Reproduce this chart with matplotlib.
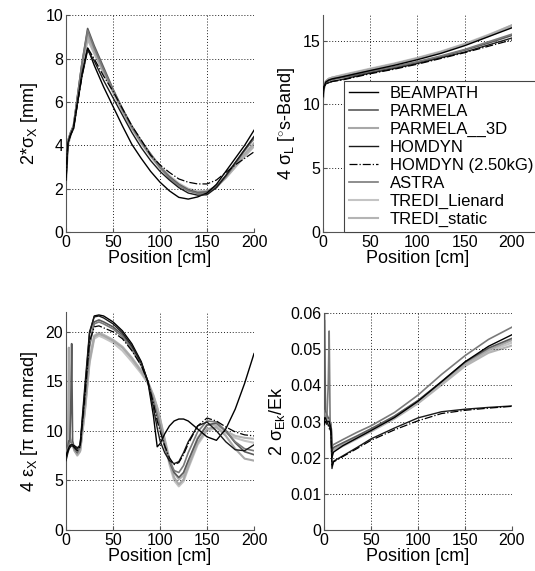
import numpy as np
import matplotlib
matplotlib.use("Agg")
import matplotlib.pyplot as plt
from matplotlib.ticker import FuncFormatter

plt.rcParams['font.family'] = ['Liberation Sans', 'DejaVu Sans']
plt.rcParams['mathtext.fontset'] = 'custom'
plt.rcParams['mathtext.rm'] = 'Liberation Sans'
plt.rcParams['mathtext.it'] = 'Liberation Sans'
plt.rcParams['font.size'] = 11.5

codes = ['BEAMPATH', 'PARMELA', 'PARMELA__3D', 'HOMDYN', 'HOMDYN (2.50kG)',
         'ASTRA', 'TREDI_Lienard', 'TREDI_static']

# --- 2*sigma_x [mm] ---
pos_sx = [0, 2, 5, 8, 12, 17, 23, 30, 40, 50, 60, 70, 80, 90, 100, 110, 120, 130, 140, 150, 160, 170, 180, 190, 200]
sx_beampath = [2.4, 4.1, 4.5, 4.8, 5.9, 7.3, 8.5, 7.7, 6.7, 5.8, 4.9, 4.05, 3.4, 2.8, 2.3, 1.9, 1.6, 1.52, 1.62, 1.8, 2.2, 2.8, 3.4, 4.0, 4.7]
sx_parmela = [2.5, 4.2, 4.6, 4.9, 6.2, 7.8, 9.4, 8.6, 7.6, 6.6, 5.7, 4.9, 4.2, 3.6, 3.0, 2.55, 2.2, 1.95, 1.82, 1.85, 2.1, 2.6, 3.2, 3.8, 4.4]
sx_parmela3d = [2.6, 4.2, 4.6, 4.9, 6.1, 7.7, 9.1, 8.4, 7.4, 6.5, 5.6, 4.8, 4.1, 3.5, 2.95, 2.5, 2.15, 1.92, 1.82, 1.88, 2.1, 2.55, 3.1, 3.6, 4.1]
sx_homdyn = [2.5, 4.1, 4.5, 4.8, 5.9, 7.2, 8.4, 7.9, 7.0, 6.2, 5.4, 4.6, 3.9, 3.3, 2.8, 2.4, 2.05, 1.8, 1.7, 1.72, 2.05, 2.6, 3.2, 3.8, 4.4]
sx_homdyn25 = [2.5, 4.1, 4.5, 4.8, 5.9, 7.2, 8.5, 8.0, 7.2, 6.5, 5.7, 4.9, 4.25, 3.55, 3.1, 2.75, 2.45, 2.3, 2.22, 2.22, 2.4, 2.75, 3.1, 3.4, 3.7]
sx_astra = [2.5, 4.2, 4.6, 4.9, 6.2, 7.8, 9.3, 8.5, 7.5, 6.55, 5.65, 4.85, 4.15, 3.55, 3.0, 2.5, 2.15, 1.9, 1.78, 1.8, 2.05, 2.55, 3.15, 3.75, 4.3]
sx_tredil = [2.3, 4.0, 4.5, 4.8, 6.0, 7.6, 9.0, 8.3, 7.4, 6.5, 5.65, 4.85, 4.2, 3.6, 3.05, 2.6, 2.25, 2.0, 1.88, 1.9, 2.1, 2.5, 3.0, 3.5, 4.0]
sx_tredis = [2.4, 4.0, 4.5, 4.8, 6.0, 7.5, 8.9, 8.25, 7.35, 6.45, 5.6, 4.8, 4.15, 3.55, 3.0, 2.55, 2.2, 1.98, 1.85, 1.88, 2.1, 2.5, 3.0, 3.5, 3.95]

# --- 4*sigma_L [deg S-band] ---
pos_sl = [0, 1, 3, 6, 10, 20, 35, 50, 75, 100, 125, 150, 175, 200]
sl_beampath = [10.6, 11.3, 11.75, 11.9, 12.0, 12.15, 12.4, 12.65, 13.05, 13.5, 14.0, 14.6, 15.3, 16.0]
sl_parmela = [10.9, 11.4, 11.7, 11.85, 11.95, 12.1, 12.3, 12.55, 12.9, 13.3, 13.75, 14.25, 14.8, 15.4]
sl_parmela3d = [10.5, 11.3, 11.8, 12.0, 12.1, 12.25, 12.5, 12.75, 13.15, 13.6, 14.1, 14.7, 15.4, 16.2]
sl_homdyn = [11.0, 11.4, 11.6, 11.7, 11.8, 11.95, 12.2, 12.45, 12.8, 13.2, 13.65, 14.1, 14.65, 15.2]
sl_homdyn25 = [11.0, 11.4, 11.6, 11.7, 11.8, 11.9, 12.15, 12.4, 12.75, 13.15, 13.6, 14.05, 14.55, 15.05]
sl_astra = [10.8, 11.4, 11.75, 11.9, 12.0, 12.15, 12.4, 12.6, 12.95, 13.35, 13.8, 14.3, 14.9, 15.5]
sl_tredil = [10.4, 11.2, 11.8, 12.0, 12.1, 12.3, 12.55, 12.8, 13.2, 13.65, 14.15, 14.75, 15.45, 16.2]
sl_tredis = [10.3, 11.2, 11.8, 12.0, 12.1, 12.25, 12.5, 12.75, 13.15, 13.6, 14.1, 14.7, 15.35, 16.1]

# --- 4*eps_x [pi mm mrad] ---
pos_ex = [0, 2, 3, 4, 5, 6, 7, 9, 12, 15, 20, 25, 30, 35, 40, 50, 60, 70, 80, 87, 93, 97, 100,
          105, 110, 115, 120, 125, 130, 140, 150, 160, 170, 180, 190, 200]
ex_beampath = [7.2, 8.0, 8.3, 8.5, 8.6, 8.6, 8.6, 8.5, 8.3, 8.5, 14.0, 19.8, 21.6, 21.7, 21.6, 21.0, 20.1, 18.8, 17.0, 15.0, 11.5, 8.4,
               8.7, 9.7, 10.5, 11.0, 11.2, 11.2, 11.0, 10.2, 9.4, 9.05, 10.2, 12.2, 14.8, 17.8]
ex_parmela = [8.0, 8.5, 9.0, 9.0, 12.0, 18.8, 9.0, 8.2, 7.8, 8.5, 13.0, 18.5, 21.0, 21.2, 21.0, 20.5, 19.7, 18.4, 16.8, 15.0, 13.0, 11.5,
              10.3, 8.4, 6.9, 5.8, 5.3, 5.8, 7.0, 9.2, 10.6, 10.8, 10.0, 8.8, 7.9, 7.6]
ex_parmela3d = [8.5, 9.0, 18.4, 9.5, 9.0, 9.0, 8.6, 8.0, 7.6, 8.0, 12.0, 17.0, 19.5, 19.8, 19.6, 19.1, 18.4, 17.3, 16.0, 14.9, 13.5, 12.3,
                11.2, 9.0, 6.9, 5.3, 4.6, 5.1, 6.4, 8.8, 10.2, 10.4, 9.5, 8.2, 7.2, 7.0]
ex_homdyn = [7.0, 7.8, 8.1, 8.3, 8.4, 8.5, 8.5, 8.4, 8.2, 8.6, 14.5, 20.0, 21.5, 21.6, 21.4, 20.8, 19.9, 18.6, 16.9, 15.0, 12.3, 10.3,
             9.0, 7.8, 7.0, 6.7, 6.9, 7.8, 8.9, 10.5, 10.9, 10.0, 8.9, 8.1, 8.0, 8.6]
ex_homdyn25 = [7.5, 8.0, 8.3, 8.4, 8.5, 8.5, 8.5, 8.3, 8.0, 8.4, 13.5, 19.0, 20.5, 20.6, 20.4, 20.0, 19.3, 18.1, 16.6, 15.0, 12.8, 11.0,
               10.0, 8.5, 7.3, 6.6, 6.8, 7.6, 8.7, 10.5, 11.3, 11.0, 10.4, 9.9, 9.6, 9.5]
ex_astra = [8.0, 8.3, 8.6, 8.8, 8.9, 8.8, 8.6, 8.2, 7.9, 8.3, 13.2, 18.8, 20.8, 21.0, 20.8, 20.3, 19.5, 18.2, 16.6, 15.0, 13.0, 11.6,
            10.5, 8.6, 7.0, 6.0, 5.8, 6.5, 7.8, 9.9, 11.0, 10.9, 10.0, 8.9, 8.2, 8.0]
ex_tredil = [8.2, 8.6, 8.8, 9.0, 9.0, 8.9, 8.6, 8.0, 7.5, 7.9, 11.8, 16.8, 19.3, 19.6, 19.4, 18.9, 18.1, 17.0, 15.8, 14.8, 13.4, 12.2,
             11.0, 8.8, 6.6, 5.0, 4.4, 4.9, 6.2, 8.6, 10.0, 10.3, 9.8, 9.3, 9.0, 8.8]
ex_tredis = [8.3, 8.7, 8.9, 9.1, 9.0, 8.9, 8.6, 8.1, 7.6, 8.0, 12.2, 17.2, 19.6, 19.9, 19.7, 19.2, 18.5, 17.4, 16.1, 15.0, 13.6, 12.4,
             11.3, 9.2, 7.2, 5.8, 5.1, 5.5, 6.8, 9.3, 10.6, 10.6, 10.0, 9.5, 9.3, 9.2]

# --- 2*sigma_Ek/Ek ---
pos_de = [0, 0.5, 1.5, 3, 4.5, 5.5, 6.5, 7.5, 8.5, 10, 20, 35, 50, 75, 100, 125, 150, 175, 200]
de_beampath = [0.030, 0.031, 0.031, 0.030, 0.030, 0.030, 0.029, 0.028, 0.020, 0.0215, 0.0233, 0.0254, 0.0275, 0.0311, 0.0356, 0.041, 0.0465, 0.0508, 0.054]
de_parmela = [0.058, 0.058, 0.033, 0.032, 0.031, 0.031, 0.030, 0.029, 0.022, 0.0228, 0.0241, 0.026, 0.028, 0.0315, 0.0358, 0.041, 0.0464, 0.0503, 0.053]
de_parmela3d = [0.032, 0.032, 0.031, 0.031, 0.030, 0.030, 0.029, 0.028, 0.0215, 0.0222, 0.0236, 0.0256, 0.0277, 0.0314, 0.0357, 0.0408, 0.046, 0.0498, 0.0525]
de_homdyn = [0.029, 0.030, 0.030, 0.030, 0.029, 0.029, 0.028, 0.027, 0.017, 0.019, 0.0205, 0.0228, 0.0252, 0.0282, 0.031, 0.0327, 0.0334, 0.0339, 0.0343]
de_homdyn25 = [0.029, 0.030, 0.030, 0.029, 0.029, 0.028, 0.028, 0.027, 0.0175, 0.0188, 0.0203, 0.0225, 0.0248, 0.0277, 0.0302, 0.0322, 0.0331, 0.0337, 0.0342]
de_astra = [0.033, 0.032, 0.031, 0.031, 0.040, 0.055, 0.030, 0.029, 0.0232, 0.0236, 0.025, 0.027, 0.0288, 0.0325, 0.0373, 0.043, 0.0482, 0.0527, 0.0561]
de_tredil = [0.0, 0.060, 0.032, 0.031, 0.030, 0.030, 0.029, 0.028, 0.021, 0.022, 0.0234, 0.0254, 0.0274, 0.031, 0.0352, 0.0404, 0.0457, 0.0494, 0.0518]
de_tredis = [0.031, 0.031, 0.031, 0.030, 0.030, 0.030, 0.029, 0.028, 0.021, 0.0219, 0.0232, 0.0252, 0.0272, 0.0308, 0.035, 0.0401, 0.0453, 0.049, 0.051]

colors = ['#000000', '#5a5a5a', '#a8a8a8', '#1a1a1a', '#000000', '#7a7a7a', '#c4c4c4', '#b4b4b4']
styles = ['-', '-', '-', '-', '-.', '-', '-', '-']
widths = [1.0, 1.2, 1.5, 1.0, 0.9, 1.2, 1.5, 1.5]

fig = plt.figure(figsize=(5.35, 5.71), dpi=100)
ax1 = fig.add_axes([0.1234, 0.5937, 0.3514, 0.3792])
ax2 = fig.add_axes([0.6037, 0.5937, 0.3533, 0.3800])
ax3 = fig.add_axes([0.1234, 0.0718, 0.3514, 0.3818])
ax4 = fig.add_axes([0.6056, 0.0718, 0.3514, 0.3800])

panels = [
    (ax1, pos_sx, [sx_beampath, sx_parmela, sx_parmela3d, sx_homdyn, sx_homdyn25, sx_astra, sx_tredil, sx_tredis]),
    (ax2, pos_sl, [sl_beampath, sl_parmela, sl_parmela3d, sl_homdyn, sl_homdyn25, sl_astra, sl_tredil, sl_tredis]),
    (ax3, pos_ex, [ex_beampath, ex_parmela, ex_parmela3d, ex_homdyn, ex_homdyn25, ex_astra, ex_tredil, ex_tredis]),
    (ax4, pos_de, [de_beampath, de_parmela, de_parmela3d, de_homdyn, de_homdyn25, de_astra, de_tredil, de_tredis]),
]

zord = [5, 3, 2, 5, 6, 3, 1, 1]
for ax, pos, series in panels:
    for i, vals in enumerate(series):
        ax.plot(pos, vals, color=colors[i], ls=styles[i], lw=widths[i], label=codes[i], zorder=zord[i])
    ax.set_xlim(0, 200)
    ax.set_xticks([0, 50, 100, 150, 200])
    ax.grid(True, color='#222222', ls=(0, (1, 2)), lw=0.7)
    for s in ['top', 'right']:
        ax.spines[s].set_visible(False)
    for s in ['left', 'bottom']:
        ax.spines[s].set_color('#555555')
    ax.tick_params(direction='in', length=3, labelsize=11.5, color='#555555', pad=2)
    ax.set_xlabel('Position [cm]', fontsize=13, labelpad=0)

ax1.set_ylim(0, 10)
ax1.set_yticks([0, 2, 4, 6, 8, 10])
ax1.set_ylabel(r'2*$\sigma_{\rm X}$ [mm]', fontsize=13, labelpad=4)

ax2.set_ylim(0, 17)
ax2.set_yticks([0, 5, 10, 15])
ax2.set_ylabel(r'4 $\sigma_{\rm L}$ [$^{\circ}$s-Band]', fontsize=13, labelpad=4)

ax3.set_ylim(0, 22)
ax3.set_yticks([0, 5, 10, 15, 20])
ax3.set_ylabel(r'4 $\varepsilon_{\rm X}$ [$\pi$ mm.mrad]', fontsize=13, labelpad=4)

ax4.set_ylim(0, 0.06)
ax4.set_yticks([0, 0.01, 0.02, 0.03, 0.04, 0.05, 0.06])
ax4.yaxis.set_major_formatter(FuncFormatter(lambda v, p: '%g' % v))
ax4.set_ylabel(r'2 $\sigma_{\rm Ek}$/Ek', fontsize=13, labelpad=2)

leg = ax2.legend(loc='lower left', bbox_to_anchor=(0.111, 0.0), fontsize=12,
                 frameon=True, fancybox=False, edgecolor='#444444', framealpha=1,
                 labelspacing=0.18, handlelength=1.75, handletextpad=0.7,
                 borderpad=0.3, borderaxespad=0.0)
leg.get_frame().set_linewidth(0.8)
leg.set_zorder(10)

fig.savefig('out.png', dpi=100)
